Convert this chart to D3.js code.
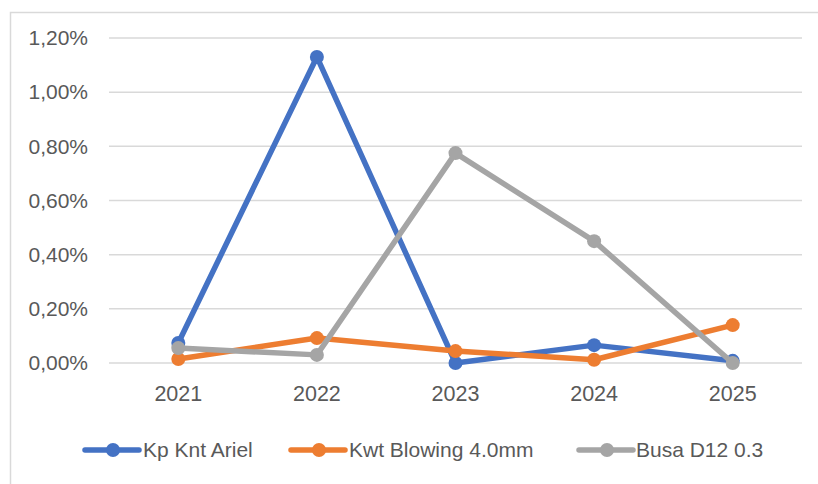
<!DOCTYPE html>
<html>
<head>
<meta charset="utf-8">
<script src="https://cdn.jsdelivr.net/npm/d3@7"></script>
<style>
  html, body { margin: 0; padding: 0; background: #fff; }
  svg { display: block; }
  text { font-family: "Liberation Sans", Arial, sans-serif; fill: #595959; }
</style>
</head>
<body>
<svg id="chart" width="818" height="484"></svg>
<script>
const years = ["2021", "2022", "2023", "2024", "2025"];
const seriesNames = ["Kp Knt Ariel", "Kwt Blowing 4.0mm", "Busa D12 0.3"];
const kpKntAriel = [0.00074, 0.01130, 0.00000, 0.00066, 0.00008];
const kwtBlowing = [0.00015, 0.00092, 0.00044, 0.00012, 0.00140];
const busaD12 = [0.00055, 0.00030, 0.00775, 0.00450, 0.00000];
const yTicks = [0, 0.002, 0.004, 0.006, 0.008, 0.010, 0.012];
const colors = ["#4472C4", "#ED7D31", "#A5A5A5"];

const allSeries = [kpKntAriel, kwtBlowing, busaD12];

const svg = d3.select("#chart");

// outer frame
svg.append("rect")
  .attr("x", 10.5).attr("y", 12.5)
  .attr("width", 830).attr("height", 490)
  .attr("fill", "none").attr("stroke", "#d9d9d9").attr("stroke-width", 1.5);

const plotLeft = 109, plotRight = 802, plotTop = 38, plotBottom = 363;

const x = d3.scaleBand().domain(years).range([plotLeft, plotRight]);
const y = d3.scaleLinear().domain([0, 0.012]).range([plotBottom, plotTop]);

const fmt = v => (v * 100).toFixed(2).replace(".", ",") + "%";

// gridlines
svg.append("g")
  .selectAll("line")
  .data(yTicks)
  .join("line")
  .attr("x1", plotLeft).attr("x2", plotRight)
  .attr("y1", d => y(d)).attr("y2", d => y(d))
  .attr("stroke", "#d9d9d9").attr("stroke-width", 1.5);

// y axis labels
const yAxis = d3.axisLeft(y).tickValues(yTicks).tickFormat(fmt).tickSize(0).tickPadding(0);
const gy = svg.append("g").attr("transform", `translate(88,0)`).call(yAxis);
gy.select(".domain").remove();
gy.selectAll("text")
  .attr("font-size", 21)
  .attr("font-family", "Liberation Sans, Arial, sans-serif")
  .attr("fill", "#595959");

// x axis labels
const xAxis = d3.axisBottom(x).tickSize(0).tickPadding(0);
const gx = svg.append("g").attr("transform", `translate(0,${plotBottom + 23})`).call(xAxis);
gx.select(".domain").remove();
gx.selectAll("text")
  .attr("font-size", 21.5)
  .attr("font-family", "Liberation Sans, Arial, sans-serif")
  .attr("fill", "#595959");

const cx = d => x(d) + x.bandwidth() / 2;
const line = d3.line().x((d, i) => cx(years[i])).y(d => y(d));

allSeries.forEach((s, k) => {
  const g = svg.append("g");
  g.append("path")
    .datum(s)
    .attr("d", line)
    .attr("fill", "none")
    .attr("stroke", colors[k])
    .attr("stroke-width", 5.5)
    .attr("stroke-linejoin", "round")
    .attr("stroke-linecap", "round");
  g.selectAll("circle")
    .data(s)
    .join("circle")
    .attr("cx", (d, i) => cx(years[i]))
    .attr("cy", d => y(d))
    .attr("r", 7)
    .attr("fill", colors[k]);
});

// legend
const legendItems = [
  { x0: 85, tx: 143 },
  { x0: 291, tx: 349 },
  { x0: 579, tx: 636 }
];
const ly = 450;
legendItems.forEach((it, k) => {
  const g = svg.append("g");
  g.append("line")
    .attr("x1", it.x0).attr("x2", it.x0 + 54)
    .attr("y1", ly).attr("y2", ly)
    .attr("stroke", colors[k]).attr("stroke-width", 5.5)
    .attr("stroke-linecap", "round");
  g.append("circle")
    .attr("cx", it.x0 + 28).attr("cy", ly).attr("r", 7)
    .attr("fill", colors[k]);
  g.append("text")
    .attr("x", it.tx).attr("y", ly)
    .attr("dy", "0.35em")
    .attr("font-size", 21)
    .text(seriesNames[k]);
});
</script>
</body>
</html>
